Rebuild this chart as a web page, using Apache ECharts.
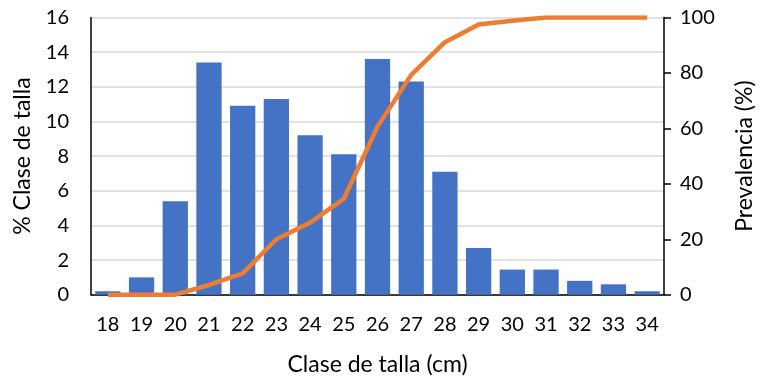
<!DOCTYPE html>
<html>
<head>
<meta charset="utf-8">
<script src="https://cdn.jsdelivr.net/npm/echarts@6/dist/echarts.min.js"></script>
<style>
  html, body { margin: 0; padding: 0; background: #fff; }
  #chart { width: 761px; height: 380px; }
</style>
</head>
<body>
<div id="chart"></div>
<script>
// Size classes (cm)
const categories = ['18','19','20','21','22','23','24','25','26','27','28','29','30','31','32','33','34'];
// % of individuals in each size class
const clasePct = [0.2, 1.0, 5.4, 13.4, 10.9, 11.3, 9.2, 8.1, 13.6, 12.3, 7.1, 2.7, 1.45, 1.45, 0.8, 0.6, 0.2];
// Prevalence (%) by size class
const prevalencia = [0, 0, 0, 3.5, 7.7, 20, 26, 34.6, 60.6, 79.3, 91.1, 97.5, 98.8, 100, 100, 100, 100];

const FONT = 'Lato';
const TICK_SIZE = 20;
const TITLE_SIZE = 23;
const chart = echarts.init(document.getElementById('chart'));
chart.setOption({
  animation: false,
  textStyle: { fontFamily: FONT },
  grid: { left: 91, right: 97, top: 17.5, bottom: 85.3, containLabel: false, outerBoundsMode: 'none' },
  xAxis: {
    type: 'category',
    data: categories,
    name: 'Clase de talla (cm)',
    nameLocation: 'middle',
    nameGap: 58,
    nameTextStyle: { fontFamily: FONT, fontSize: TITLE_SIZE, color: '#000' },
    axisLine: { lineStyle: { color: '#000', width: 1.5 } },
    axisTick: { show: false },
    axisLabel: { fontFamily: FONT, fontSize: TICK_SIZE, color: '#000', margin: 20 }
  },
  yAxis: [
    {
      type: 'value', min: 0, max: 16, interval: 2,
      name: '% Clase de talla',
      nameLocation: 'middle',
      nameGap: 57,
      nameTextStyle: { fontFamily: FONT, fontSize: TITLE_SIZE, color: '#000' },
      axisLine: { show: true, lineStyle: { color: '#000', width: 1.5 } },
      axisTick: { show: false },
      axisLabel: { fontFamily: FONT, fontSize: TICK_SIZE, color: '#000', margin: 22 },
      splitLine: { lineStyle: { color: '#d9d9d9', width: 1.5 } }
    },
    {
      type: 'value', min: 0, max: 100, interval: 20,
      position: 'right',
      name: 'Prevalencia (%)',
      nameLocation: 'middle',
      nameGap: 69,
      nameRotate: 90,
      nameTextStyle: { fontFamily: FONT, fontSize: TITLE_SIZE, color: '#000' },
      axisLine: { show: true, lineStyle: { color: '#000', width: 1.5 } },
      axisTick: { show: true, length: 7, lineStyle: { color: '#000', width: 1.5 } },
      axisLabel: { fontFamily: FONT, fontSize: TICK_SIZE, color: '#000', margin: 16 },
      splitLine: { show: false }
    }
  ],
  series: [
    {
      type: 'bar',
      data: clasePct,
      yAxisIndex: 0,
      barCategoryGap: '25%',
      itemStyle: { color: '#4472C4' }
    },
    {
      type: 'line',
      data: prevalencia,
      yAxisIndex: 1,
      symbol: 'none',
      lineStyle: { color: '#ED7D31', width: 4.5 },
      z: 5
    }
  ]
});
</script>
</body>
</html>
